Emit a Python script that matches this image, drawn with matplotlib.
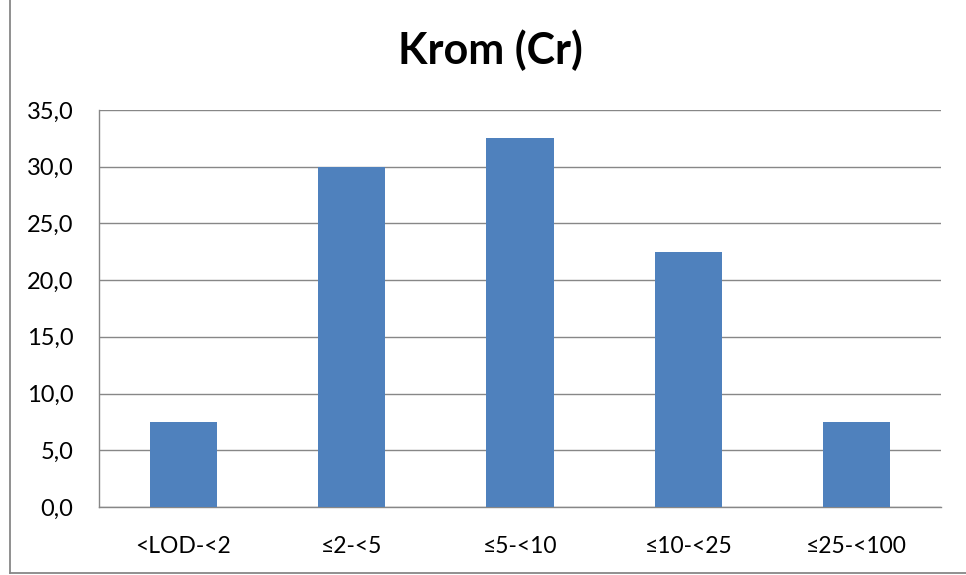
import matplotlib
matplotlib.use("Agg")
import matplotlib.pyplot as plt
from matplotlib.lines import Line2D
from matplotlib.ticker import FixedLocator, FuncFormatter

plt.rcParams['font.family'] = ['Lato', 'DejaVu Sans']

categories = ["<LOD-<2", "≤2-<5", "≤5-<10", "≤10-<25", "≤25-<100"]
values = [7.5, 30.0, 32.5, 22.5, 7.5]
y_ticks = [0, 5, 10, 15, 20, 25, 30, 35]
title = "Krom (Cr)"

bar_color = "#4F81BD"
grid_color = "#878787"

fig = plt.figure(figsize=(9.66, 5.75), dpi=100)
ax = fig.add_axes([0.1025, 0.1183, 0.8715, 0.6904])

x = list(range(len(categories)))
ax.bar(x, values, width=0.4, color=bar_color, zorder=3)

ax.set_xlim(-0.5, len(categories) - 0.5)
ax.set_ylim(0, 35)
ax.yaxis.set_major_locator(FixedLocator(y_ticks))
ax.yaxis.set_major_formatter(FuncFormatter(lambda v, p: f"{v:.1f}".replace(".", ",")))
ax.set_xticks(x)
ax.set_xticklabels(categories)

ax.grid(axis='y', color=grid_color, linewidth=1.0, zorder=0)
ax.set_axisbelow(True)
for side in ('top', 'right'):
    ax.spines[side].set_visible(False)
for side in ('left', 'bottom'):
    ax.spines[side].set_color(grid_color)
    ax.spines[side].set_linewidth(1.0)

ax.tick_params(axis='y', length=0, pad=18.5, labelsize=17, colors='black')
ax.tick_params(axis='x', length=0, pad=21, labelsize=16.5, colors='black')

fig.text(490 / 966, 1 - 50 / 575, title, ha='center', va='center',
         fontsize=31, fontweight='bold', color='black')

# chart frame (left and bottom edges)
fig.add_artist(Line2D([10 / 966, 10 / 966], [1 - 573 / 575, 1.0],
                      transform=fig.transFigure, color=grid_color, linewidth=1.3))
fig.add_artist(Line2D([10 / 966, 1.0], [1 - 573 / 575, 1 - 573 / 575],
                      transform=fig.transFigure, color=grid_color, linewidth=1.3))

fig.savefig("out.png", dpi=100, facecolor='white')
